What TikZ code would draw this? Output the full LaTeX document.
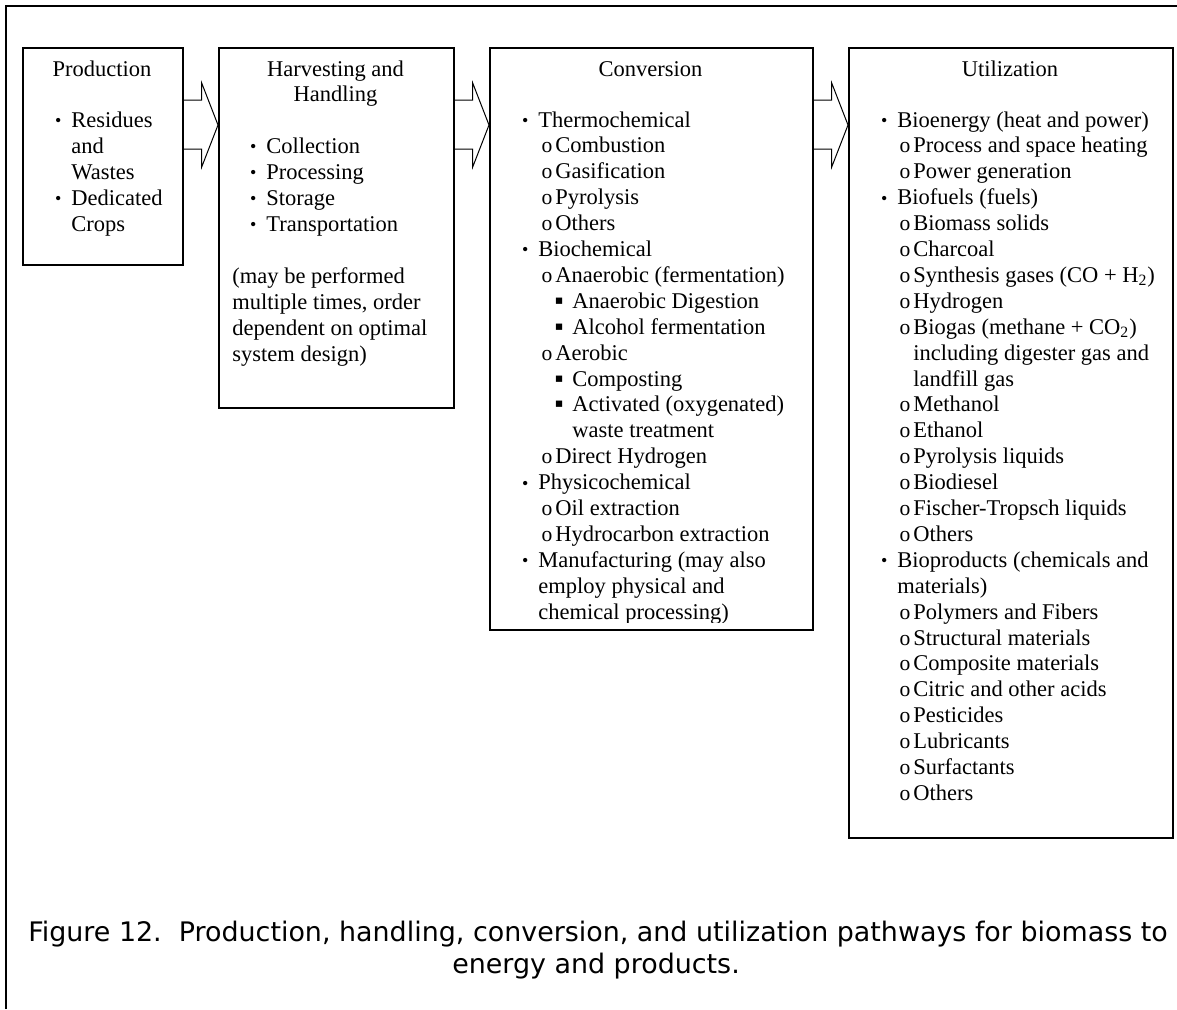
\documentclass[tikz,border=0pt]{standalone}
\usepackage{fontspec}
\setmainfont{Liberation Serif}
\newfontfamily\capfont{DejaVu Sans}
\newfontfamily\symfnt{DejaVu Sans}
\usetikzlibrary{calc}
\newcommand\bulm{\llap{\raisebox{0.3pt}{\fontsize{9pt}{9pt}\selectfont •}\hspace{5pt}}}
\newcommand\subm{\llap{{\fontsize{10.8pt}{10.8pt}\selectfont o}\hspace{1.5pt}}}
\newcommand\sqm{\llap{\raisebox{2pt}{\symfnt\fontsize{6.3pt}{6.3pt}\selectfont ▪}\hspace{4.5pt}}}
\newcommand\blockarrow[2]{%
  \draw[barrow] ($(#1.north east)+(0,53)$) -- ++(18,0) -- ++(0,-17)
    -- ($(#2.north west)+(0,78)$) -- ($(#1.north east)+(18,120)$)
    -- ++(0,-18) -- ($(#1.north east)+(0,102)$);}
\tikzset{
  boxn/.style={draw, line width=0.85pt, inner sep=0pt, anchor=north west},
  frame/.style={line width=1.25pt},
  barrow/.style={draw, line width=0.5pt, line join=miter},
  ln/.style={anchor=base west, inner sep=0pt, font=\fontsize{11.25pt}{12.95pt}\selectfont},
  ttl/.style={anchor=base, inner sep=0pt, font=\fontsize{11.25pt}{12.95pt}\selectfont},
  captxt/.style={anchor=base, inner sep=0pt, font=\capfont\fontsize{13.45pt}{16pt}\selectfont},
}
\begin{document}
\begin{tikzpicture}[x=0.5pt,y=-0.5pt]
\useasboundingbox (0,0) rectangle (1177,1009);
\draw[frame] (6,1009) -- (6,6) -- (1177,6);

% boxes
\node[boxn, minimum width=80pt, minimum height=108.5pt] (prod) at (22,47) {};
\node[boxn, minimum width=117.5pt, minimum height=180pt] (harv) at (218,47) {};
\node[boxn, minimum width=161.5pt, minimum height=291pt] (conv) at (489,47) {};
\node[boxn, minimum width=162pt, minimum height=395pt] (util) at (848,47) {};

% block arrows
\blockarrow{prod}{harv}
\blockarrow{harv}{conv}
\blockarrow{conv}{util}

% Production
\node[ttl] (prodT) at (102,76) {Production};
\node[ln] (p1) at (71,127) {\bulm Residues};
\node[ln] (p2) at (71,153) {and};
\node[ln] (p3) at (71,179) {Wastes};
\node[ln] (p4) at (71,205) {\bulm Dedicated};
\node[ln] (p5) at (71,231) {Crops};

% Harvesting
\node[ttl] (harvT1) at (335.5,76) {Harvesting and};
\node[ttl] (harvT2) at (335.5,101) {Handling};
\node[ln] (h1) at (266,153) {\bulm Collection};
\node[ln] (h2) at (266,179) {\bulm Processing};
\node[ln] (h3) at (266,205) {\bulm Storage};
\node[ln] (h4) at (266,231) {\bulm Transportation};
\node[ln] (h5) at (232,283) {(may be performed};
\node[ln] (h6) at (232,309) {multiple times, order};
\node[ln] (h7) at (232,335) {dependent on optimal};
\node[ln] (h8) at (232,361) {system design)};

% Conversion
\node[ttl] (convT) at (650.5,76) {Conversion};
\begin{scope}
\clip (489,47) rectangle (812,622);
\foreach \xx/\t [count=\i from 0] in {
  538/{\bulm Thermochemical},
  555/{\subm Combustion},
  555/{\subm Gasification},
  555/{\subm Pyrolysis},
  555/{\subm Others},
  538/{\bulm Biochemical},
  555/{\subm Anaerobic (fermentation)},
  572/{\sqm Anaerobic Digestion},
  572/{\sqm Alcohol fermentation},
  555/{\subm Aerobic},
  572/{\sqm Composting},
  572/{\sqm Activated (oxygenated)},
  572/{waste treatment},
  555/{\subm Direct Hydrogen},
  538/{\bulm Physicochemical},
  555/{\subm Oil extraction},
  555/{\subm Hydrocarbon extraction},
  538/{\bulm Manufacturing (may also},
  538/{employ physical and},
  538/{chemical processing)}}
  \node[ln] (c\i) at (\xx,{127+25.9*\i}) {\t};
\end{scope}

% Utilization
\node[ttl] (utilT) at (1010,76) {Utilization};
\foreach \xx/\t [count=\i from 0] in {
  897/{\bulm Bioenergy (heat and power)},
  913/{\subm Process and space heating},
  913/{\subm Power generation},
  897/{\bulm Biofuels (fuels)},
  913/{\subm Biomass solids},
  913/{\subm Charcoal},
  913/{\subm Synthesis gases (CO + H\textsubscript{2})},
  913/{\subm Hydrogen},
  913/{\subm Biogas (methane + CO\textsubscript{2})},
  913/{including digester gas and},
  913/{landfill gas},
  913/{\subm Methanol},
  913/{\subm Ethanol},
  913/{\subm Pyrolysis liquids},
  913/{\subm Biodiesel},
  913/{\subm Fischer-Tropsch liquids},
  913/{\subm Others},
  897/{\bulm Bioproducts (chemicals and},
  897/{materials)},
  913/{\subm Polymers and Fibers},
  913/{\subm Structural materials},
  913/{\subm Composite materials},
  913/{\subm Citric and other acids},
  913/{\subm Pesticides},
  913/{\subm Lubricants},
  913/{\subm Surfactants},
  913/{\subm Others}}
  \node[ln] (u\i) at (\xx,{127+25.9*\i}) {\t};

% caption
\node[captxt] (cap1) at (598,941) {Figure 12.\ \ Production, handling, conversion, and utilization pathways for biomass to};
\node[captxt] (cap2) at (596,973) {energy and products.};
\end{tikzpicture}
\end{document}
